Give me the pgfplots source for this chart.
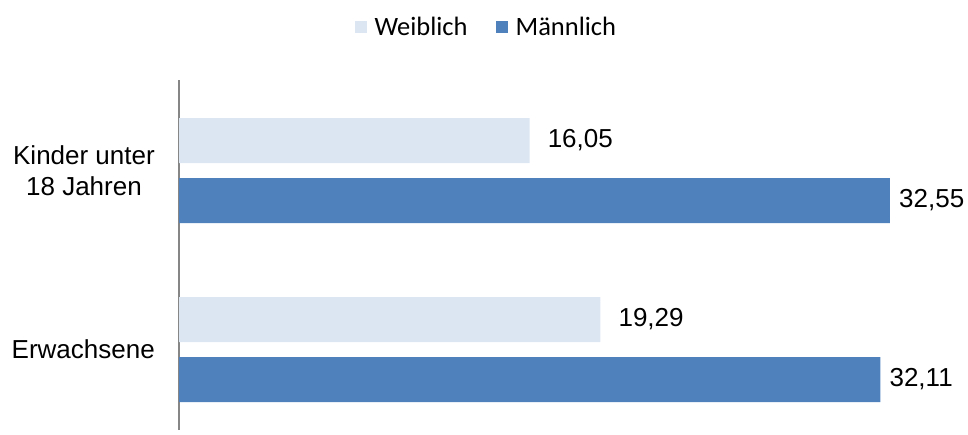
\documentclass[border=0pt]{standalone}
\usepackage{fontspec}
\setmainfont{Liberation Sans}
\newfontfamily\legfont{Carlito}
\usepackage{pgfplots}
\pgfplotsset{compat=1.18}
\definecolor{weib}{HTML}{DCE6F2}
\definecolor{mann}{HTML}{4F81BD}
\definecolor{axgray}{HTML}{868686}
\begin{document}
\begin{tikzpicture}[x=1pt,y=1pt]
\useasboundingbox (0,0) rectangle (968,434);
\begin{axis}[
  at={(179pt,4pt)}, anchor=south west,
  scale only axis,
  width=764.5pt, height=350pt,
  xmin=0, xmax=35,
  ymin=-0.4497, ymax=1.5056,
  xbar,
  bar width=45pt,
  axis x line=none,
  axis y line*=left,
  y axis line style={draw=axgray, line width=2pt, -},
  xtick=\empty,
  ytick={0,1},
  yticklabels={Erwachsene, {Kinder unter\\18 Jahren}},
  major tick length=0pt,
  yticklabel style={align=center, inner sep=0pt, xshift=-24pt, font=\fontsize{26}{31}\selectfont},
  /pgf/number format/assume math mode=true,
  nodes near coords={\pgfmathprintnumber[fixed, fixed zerofill, precision=2, use comma, assume math mode=true]{\pgfplotspointmeta}},
  nodes near coords style={font=\fontsize{26}{31}\selectfont, anchor=west, inner sep=0pt},
  legend columns=2,
  legend style={draw=none, fill=none, at={(0.402,1.1514)}, anchor=center,
    font=\legfont\fontsize{26.5}{31}\selectfont,
    /tikz/every even column/.append style={column sep=26pt},
    nodes={inner sep=2pt}},
  legend image code/.code={\path[#1, draw=none] (0pt,-6pt) rectangle (12pt,6pt); \path (18pt,0pt);},
]
\addplot[fill=weib, draw=none, bar shift=30pt, nodes near coords style={xshift=18pt}]
  coordinates {(19.29,0) (16.05,1)};
\addlegendentry{Weiblich}
\addplot[fill=mann, draw=none, bar shift=-30pt, nodes near coords style={xshift=9pt}]
  coordinates {(32.11,0) (32.55,1)};
\addlegendentry{Männlich}
\end{axis}
\end{tikzpicture}
\end{document}
